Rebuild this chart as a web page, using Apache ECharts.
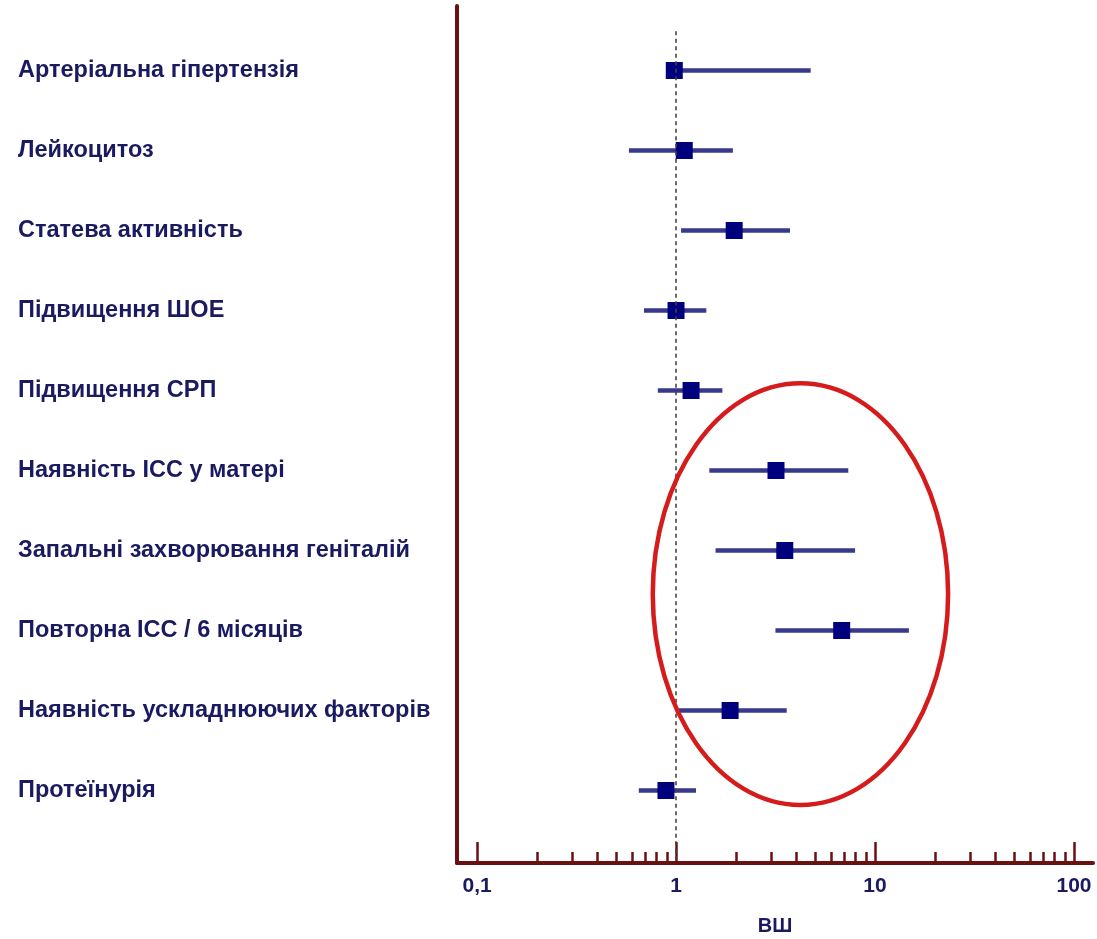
<!DOCTYPE html>
<html>
<head>
<meta charset="utf-8">
<title>ВШ</title>
<script src="https://cdn.jsdelivr.net/npm/echarts@6/dist/echarts.min.js"></script>
<style>
  html, body { margin: 0; padding: 0; background: #ffffff; }
  #chart { width: 1097px; height: 939px; }
</style>
</head>
<body>
<div id="chart"></div>
<script>
// Risk factors (top to bottom)
const categories = [
  'Артеріальна гіпертензія',
  'Лейкоцитоз',
  'Статева активність',
  'Підвищення ШОЕ',
  'Підвищення СРП',
  'Наявність ІСС у матері',
  'Запальні захворювання геніталій',
  'Повторна ІСС / 6 місяців',
  'Наявність ускладнюючих факторів',
  'Протеїнурія'
];

// Odds ratios with 95% confidence limits
const oddsRatio = [0.98, 1.10, 1.96, 1.00, 1.19, 3.18, 3.52, 6.80, 1.87, 0.89];
const ciLower   = [0.95, 0.58, 1.06, 0.69, 0.81, 1.47, 1.58, 3.16, 1.03, 0.65];
const ciUpper   = [4.75, 1.93, 3.74, 1.42, 1.71, 7.34, 7.94, 14.8, 3.60, 1.26];

// Log-scale tick values
const majorTicks = [0.1, 1, 10, 100];
const minorTicks = [0.2, 0.3, 0.4, 0.5, 0.6, 0.7, 0.8, 0.9,
                    2, 3, 4, 5, 6, 7, 8, 9,
                    20, 30, 40, 50, 60, 70, 80, 90];

// Highlighted group of factors (rows 6-9), in axis units
const highlightX = [0.764, 23.3];
const highlightY = [3.91, 9.18];

const axisColor = '#6b1010';
const textColor = '#1a1a60';
const font = 'Liberation Sans, Arial, sans-serif';

const chart = echarts.init(document.getElementById('chart'), null, { renderer: 'canvas' });

const xRange = { min: 0.0793, max: 124.6 };

chart.setOption({
  animation: false,
  backgroundColor: '#ffffff',
  grid: { left: 457, right: 4, top: 6, bottom: 76, containLabel: false, outerBoundsMode: 'none' },
  xAxis: [
    {
      type: 'log',
      logBase: 10,
      min: xRange.min,
      max: xRange.max,
      position: 'bottom',
      name: 'ВШ',
      nameLocation: 'middle',
      nameGap: 53,
      nameTextStyle: { color: textColor, fontFamily: font, fontWeight: 'bold', fontSize: 20 },
      axisLine: { show: true, onZero: false, lineStyle: { color: axisColor, width: 4 } },
      axisTick: {
        show: true, inside: true, length: 21,
        customValues: majorTicks,
        lineStyle: { color: axisColor, width: 2.5 }
      },
      axisLabel: {
        show: true, margin: 13,
        customValues: majorTicks,
        color: textColor, fontFamily: font, fontWeight: 'bold', fontSize: 21,
        formatter: v => String(v).replace('.', ',')
      },
      splitLine: { show: false },
      minorTick: { show: false }
    },
    {
      type: 'log',
      logBase: 10,
      min: xRange.min,
      max: xRange.max,
      position: 'bottom',
      axisLine: { show: false, onZero: false },
      axisTick: {
        show: true, inside: true, length: 11,
        customValues: minorTicks,
        lineStyle: { color: axisColor, width: 2.5 }
      },
      axisLabel: { show: false },
      splitLine: { show: false }
    }
  ],
  yAxis: {
    type: 'value',
    inverse: true,
    min: -0.806,
    max: 9.906,
    axisLine: { show: true, onZero: false, lineStyle: { color: axisColor, width: 4 } },
    axisTick: { show: false },
    splitLine: { show: false },
    axisLabel: {
      show: true,
      customValues: categories.map((_, i) => i),
      align: 'left',
      margin: 439,
      color: textColor, fontFamily: font, fontWeight: 'bold', fontSize: 23.5,
      formatter: v => categories[v] || ''
    }
  },
  series: [
    {
      // confidence interval bars
      type: 'custom',
      xAxisIndex: 0,
      yAxisIndex: 0,
      z: 2,
      encode: { x: [0, 1], y: 2 },
      data: categories.map((_, i) => [ciLower[i], ciUpper[i], i]),
      renderItem: (params, api) => {
        const a = api.coord([api.value(0), api.value(2)]);
        const b = api.coord([api.value(1), api.value(2)]);
        return {
          type: 'line',
          shape: { x1: a[0], y1: a[1], x2: b[0], y2: b[1] },
          style: { stroke: '#38388c', lineWidth: 4.5, lineCap: 'butt' }
        };
      }
    },
    {
      // point estimates
      type: 'scatter',
      xAxisIndex: 0,
      yAxisIndex: 0,
      z: 3,
      symbol: 'rect',
      symbolSize: 17,
      itemStyle: { color: '#00007f', opacity: 1 },
      data: categories.map((_, i) => [oddsRatio[i], i]),
      markLine: {
        silent: true,
        symbol: ['none', 'none'],
        label: { show: false },
        lineStyle: { color: '#444444', type: [4, 3.5], width: 1.6 },
        data: [[{ coord: [1, -0.49] }, { coord: [1, 9.906] }]]
      }
    }
  ]
});

// Outline around the highlighted group, placed through the axes
const p0 = chart.convertToPixel({ xAxisIndex: 0, yAxisIndex: 0 }, [highlightX[0], highlightY[0]]);
const p1 = chart.convertToPixel({ xAxisIndex: 0, yAxisIndex: 0 }, [highlightX[1], highlightY[1]]);
chart.setOption({
  graphic: [{
    type: 'ellipse',
    z: 10,
    shape: {
      cx: (p0[0] + p1[0]) / 2,
      cy: (p0[1] + p1[1]) / 2,
      rx: Math.abs(p1[0] - p0[0]) / 2,
      ry: Math.abs(p1[1] - p0[1]) / 2
    },
    style: { fill: 'none', stroke: '#d41c1c', lineWidth: 4.5 }
  }]
});
</script>
</body>
</html>
